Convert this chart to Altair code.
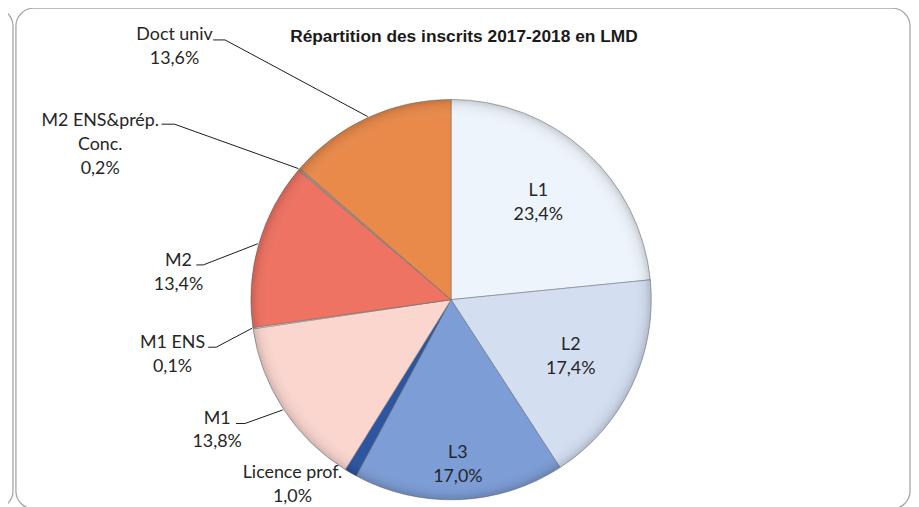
import math
import altair as alt
import pandas as pd

# ---- data ----
categories = ["L1", "L2", "L3", "Licence prof.", "M1", "M1 ENS", "M2",
              "M2 ENS&prép. Conc.", "Doct univ"]
name_lines = [["L1"], ["L2"], ["L3"], ["Licence prof."], ["M1"], ["M1 ENS"],
              ["M2"], ["M2 ENS&prép.", "Conc."], ["Doct univ"]]
values = [23.4, 17.4, 17.0, 1.0, 13.8, 0.1, 13.4, 0.2, 13.6]
title_text = "Répartition des inscrits 2017-2018 en LMD"

# ---- styles ----
colors = ["#eef4fc", "#d3def1", "#7c9dd6", "#2d55a0", "#fad6cf", "#fdf4f1",
          "#ef7363", "#a88c7c", "#e98a4b"]
LH = 24  # label line height

# ---- layout ----
W, H = 911, 499
CX, CY, R = 447, 292, 202
# inside-label radial distance (None => label outside)
inner_radius = [131, 134, 167, None, None, None, None, None, None]
# outside label block centres
outer_pos = {
    "Licence prof.": (287, 479),
    "M1": (211, 424),
    "M1 ENS": (166, 348),
    "M2": (172, 265),
    "M2 ENS&prép. Conc.": (93, 136),
    "Doct univ": (168, 37),
}
# leader line start (label side): two points (short horizontal tick)
leader_start = {
    "M1": [(230, 417), (239, 417)],
    "M1 ENS": [(202, 340), (210, 340)],
    "M2": [(190, 257), (197, 257)],
    "M2 ENS&prép. Conc.": [(155, 115), (168, 115)],
    "Doct univ": [(207, 30), (219, 30)],
}

def pct(v):
    return f"{v:.1f}".replace(".", ",") + "%"

total = sum(values)
df = pd.DataFrame({"cat": categories, "value": values, "idx": range(len(values))})

label_rows = []
lead_rows = []
cum = 0.0
for i, (c, v) in enumerate(zip(categories, values)):
    mid = (cum + v / 2) / total * 2 * math.pi
    cum += v
    lines = name_lines[i] + [pct(v)]
    if inner_radius[i]:
        r = inner_radius[i]
        x, y = CX + r * math.sin(mid), CY - r * math.cos(mid)
    else:
        x, y = outer_pos[c]
    # y of the first line so that the whole block is centred on (x, y)
    y_first = y - (len(lines) - 1) * LH / 2
    label_rows.append({"cat": c, "x": x, "y": y_first, "text": lines})
    if c in leader_start:
        pts = leader_start[c] + [(CX + (R + 1) * math.sin(mid),
                                  CY - (R + 1) * math.cos(mid))]
        for j, (px, py) in enumerate(pts):
            lead_rows.append({"cat": c, "i": j, "x": px, "y": py})
df_lab = pd.DataFrame(label_rows)
df_lead = pd.DataFrame(lead_rows)

one = pd.DataFrame({"k": [0]})
frame_main = alt.Chart(one).mark_rect(
    fill="white", stroke="#a6a6a6", strokeWidth=1.3, cornerRadius=18
).encode(x=alt.value(8), x2=alt.value(910), y=alt.value(-2), y2=alt.value(503))

frame_left = alt.Chart(one).mark_rect(
    fill="white", stroke="#a6a6a6", strokeWidth=1.3, cornerRadius=18
).encode(x=alt.value(-60), x2=alt.value(5), y=alt.value(-2), y2=alt.value(503))

pie = alt.Chart(df).mark_arc(outerRadius=R, stroke="#6f6f6f", strokeOpacity=0.55,
                             strokeWidth=1).encode(
    theta=alt.Theta("value:Q", stack=True),
    order=alt.Order("idx:Q"),
    color=alt.Color("cat:N", scale=alt.Scale(domain=categories, range=colors),
                    legend=None),
    x=alt.value(CX), y=alt.value(CY),
)

# soft rim shading over the whole pie (bevel look)
rim = alt.Chart(one).mark_arc(
    outerRadius=R, theta=0, theta2=2 * math.pi,
    fill=alt.RadialGradient(
        gradient="radial", x1=0.5, y1=0.5, r1=0, x2=0.5, y2=0.5, r2=0.5,
        stops=[alt.GradientStop(offset=0, color="rgba(255,255,255,0)"),
               alt.GradientStop(offset=0.9, color="rgba(255,255,255,0)"),
               alt.GradientStop(offset=0.97, color="rgba(0,0,0,0.05)"),
               alt.GradientStop(offset=1, color="rgba(0,0,0,0.16)")]),
).encode(x=alt.value(CX), y=alt.value(CY))

labels = alt.Chart(df_lab).mark_text(font="Lato", fontSize=18, lineHeight=LH,
                                     color="#262626", align="center",
                                     baseline="middle").encode(
    x=alt.X("x:Q", scale=None, axis=None),
    y=alt.Y("y:Q", scale=None, axis=None),
    text=alt.Text("text"),
)

leaders = alt.Chart(df_lead).mark_line(color="#1a1a1a", strokeWidth=1).encode(
    x=alt.X("x:Q", scale=None, axis=None),
    y=alt.Y("y:Q", scale=None, axis=None),
    detail="cat:N",
    order="i:Q",
)

title = alt.Chart(pd.DataFrame({"t": [title_text]})).mark_text(
    font="Liberation Sans", fontSize=17.5, fontWeight="bold", color="#1a1a1a",
    align="center", baseline="alphabetic"
).encode(x=alt.value(460), y=alt.value(32), text="t:N")

chart = alt.layer(frame_left, frame_main, pie, rim, leaders, labels, title).properties(
    width=W, height=H, padding=0, autosize="none", background="white"
).configure_view(stroke=None)

chart.save("out.html", embed_options={"renderer": "svg", "actions": False})
